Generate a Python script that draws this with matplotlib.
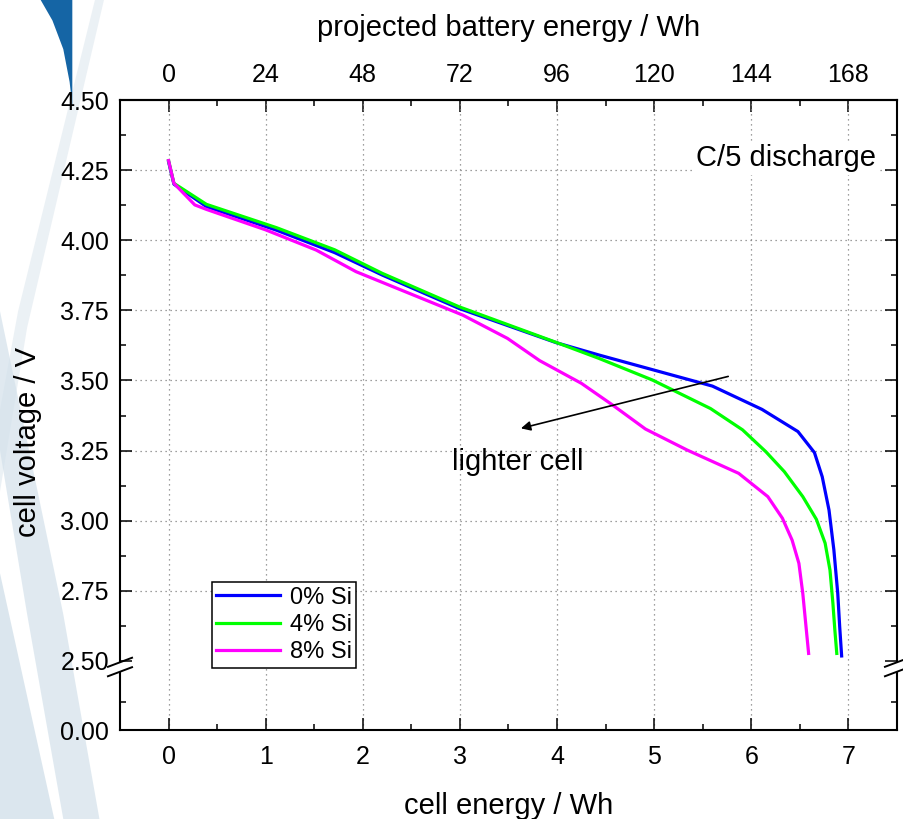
import numpy as np
import matplotlib
matplotlib.use('Agg')
import matplotlib.pyplot as plt
from matplotlib.patches import Polygon, Rectangle
from matplotlib.ticker import FixedLocator

plt.rcParams['font.family'] = ['Liberation Sans', 'DejaVu Sans']

# discharge curves (cell energy / Wh, cell voltage / V)
energy_0si = [0.0, 0.055, 0.39, 1.11, 1.71, 2.20, 2.99, 3.99, 4.43, 5.60, 6.11,
              6.48, 6.65, 6.73, 6.80, 6.85, 6.89, 6.91, 6.93]
volt_0si = [4.28, 4.20, 4.12, 4.036, 3.956, 3.876, 3.757, 3.635, 3.591, 3.480, 3.397,
            3.318, 3.243, 3.157, 3.038, 2.896, 2.741, 2.622, 2.518]

energy_4si = [0.0, 0.055, 0.39, 1.11, 1.71, 2.20, 2.99, 3.99, 4.43, 4.98, 5.58,
              5.91, 6.15, 6.34, 6.53, 6.67, 6.76, 6.81, 6.84, 6.86, 6.88]
volt_4si = [4.284, 4.203, 4.128, 4.045, 3.966, 3.882, 3.763, 3.636, 3.579, 3.502, 3.400,
            3.324, 3.246, 3.175, 3.086, 3.005, 2.920, 2.824, 2.706, 2.611, 2.527]

energy_8si = [0.0, 0.055, 0.27, 0.39, 1.0, 1.52, 1.93, 3.03, 3.49, 3.82, 4.25,
              4.57, 4.91, 5.34, 5.87, 6.17, 6.32, 6.42, 6.49, 6.53, 6.56, 6.59]
volt_8si = [4.284, 4.203, 4.126, 4.11, 4.037, 3.965, 3.888, 3.733, 3.650, 3.571, 3.490,
            3.413, 3.327, 3.252, 3.169, 3.086, 3.009, 2.931, 2.848, 2.741, 2.634, 2.527]

labels = ['0% Si', '4% Si', '8% Si']
colors = ['#0000ff', '#00ff00', '#ff00ff']

y_ticks = [0.0, 2.50, 2.75, 3.00, 3.25, 3.50, 3.75, 4.00, 4.25, 4.50]
wh_per_cell = 24  # projected battery energy per cell energy

# broken voltage axis: 0..2.5 squeezed into a short segment
k = 0.0984


def fwd(v):
    v = np.asarray(v, dtype=float)
    return np.where(v >= 2.5, v, 2.5 - (2.5 - v) * k)


def inv(u):
    u = np.asarray(u, dtype=float)
    return np.where(u >= 2.5, u, 2.5 - (2.5 - u) / k)


fig = plt.figure(figsize=(9.04, 8.19), dpi=100)

# faint background decoration on the left edge
bg = [
    ([(0.115, 1.0), (0.03, 0.6), (0.0, 0.4), (0.0, 0.5), (0.02, 0.62), (0.105, 1.0)], '#dfe8ef', 0.6),
    ([(0.0, 0.62), (0.07, 0.25), (0.11, 0.0), (0.07, 0.0), (0.03, 0.25), (0.0, 0.45)], '#d3e1eb', 0.7),
    ([(0.0, 0.3), (0.02, 0.2), (0.06, 0.0), (0.0, 0.0)], '#c4d6e3', 0.6),
    ([(0.045, 1.0), (0.058, 0.975), (0.07, 0.94), (0.077, 0.9), (0.08, 0.87),
      (0.08, 1.0)], '#1565a5', 1.0),
]
for pts, col, a in bg:
    fig.patches.append(Polygon(pts, closed=True, transform=fig.transFigure,
                               facecolor=col, alpha=a, edgecolor='none', zorder=-5))

ax = fig.add_axes([120 / 904, 89 / 819, 777 / 904, 630 / 819])
ax.patch.set_alpha(0)
ax.set_yscale('function', functions=(fwd, inv))

# curves
for e, v, lab, c in zip([energy_0si, energy_4si, energy_8si],
                        [volt_0si, volt_4si, volt_8si], labels, colors):
    ax.plot(e, v, color=c, lw=2.3, label=lab, zorder=3)

ax.set_xlim(-0.5, 7.5)
ax.set_ylim(0, 4.5)

ax.set_xticks(range(8))
ax.xaxis.set_minor_locator(FixedLocator(np.arange(-0.5, 7.6, 0.5)))
ax.set_yticks(y_ticks)
ax.set_yticklabels(['%.2f' % t for t in y_ticks])
ax.yaxis.set_minor_locator(FixedLocator([1.0] + list(np.arange(2.625, 4.5, 0.25))))

ax.tick_params(which='both', direction='in', width=1.1, labelsize=18,
               right=True, top=False)
ax.tick_params(which='major', length=8.5)
ax.tick_params(which='minor', length=4.5)
ax.tick_params(axis='x', pad=11)
ax.tick_params(axis='y', pad=8)

for s in ax.spines.values():
    s.set_linewidth(1.5)

# dotted grid, not on the axis ends nor at the break
ax.grid(True, which='major', linestyle=(0, (1, 3)), color='#808080', lw=0.9)
for t in ax.yaxis.get_major_ticks():
    if t.get_loc() in (0.0, 2.5, 4.5):
        t.gridline.set_visible(False)

# top axis: projected battery energy
top = ax.secondary_xaxis('top', functions=(lambda x: x * wh_per_cell,
                                           lambda x: x / wh_per_cell))
top.set_xticks(np.arange(0, 169, 24))
top.xaxis.set_minor_locator(FixedLocator(np.arange(-12, 181, 12)))
top.tick_params(which='both', direction='in', width=1.1, labelsize=18, pad=9)
top.tick_params(which='major', length=8.5)
top.tick_params(which='minor', length=4.5)
top.spines['top'].set_linewidth(1.5)
top.set_xlabel('projected battery energy / Wh', fontsize=21, labelpad=20)

ax.set_xlabel('cell energy / Wh', fontsize=21, labelpad=16)
ax.set_ylabel('cell voltage / V', fontsize=21)
ax.yaxis.set_label_coords(-0.10, 0.457)

# break marks on both vertical spines
yb = 0.1
for xs in (0.0, 1.0):
    ax.add_patch(Rectangle((xs - 0.006, yb - 0.0075), 0.012, 0.015, transform=ax.transAxes,
                           facecolor='white', edgecolor='none', clip_on=False, zorder=5))
    for off in (-0.0075, 0.0075):
        ax.plot([xs - 0.0155, xs + 0.0155], [yb + off - 0.0072, yb + off + 0.0072],
                transform=ax.transAxes, color='black', lw=1.4, clip_on=False, zorder=6)

# annotations
ax.annotate('', xy=(3.60, 3.327), xytext=(5.79, 3.517),
            arrowprops=dict(arrowstyle='-|>', color='black', lw=1.2, mutation_scale=14),
            zorder=4)
ax.text(3.60, 3.21, 'lighter cell', fontsize=21, ha='center', va='center')
ax.text(7.28, 4.293, 'C/5 discharge', fontsize=21, ha='right', va='center',
        bbox=dict(facecolor='white', edgecolor='none', pad=2), zorder=4)

leg = ax.legend(loc='upper left', bbox_to_anchor=(0.118, 0.235), borderaxespad=0,
                fontsize=17, fancybox=False, edgecolor='black', framealpha=1,
                handlelength=2.7, handletextpad=0.4, labelspacing=0.22, borderpad=0.2)
leg.get_frame().set_linewidth(1.1)

plt.savefig('out.png', dpi=100)
